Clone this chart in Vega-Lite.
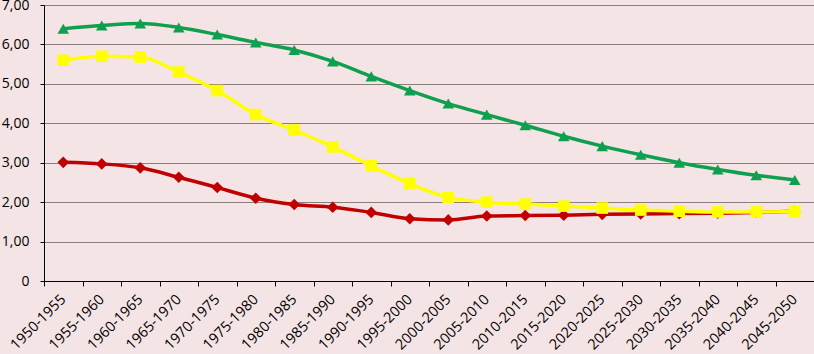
{
  "$schema": "https://vega.github.io/schema/vega-lite/v6.json",
  "width": 770,
  "height": 276,
  "autosize": {"type": "none"},
  "padding": {"left": 44, "top": 5, "right": 0, "bottom": 73},
  "background": "#f5e4e5",
  "config": {
    "view": {"stroke": null, "fill": "#f5e4e5"},
    "font": "Open Sans"
  },
  "datasets": {
    "rows": [
      {"period": "1950-1955", "series": "A", "value": 6.40},
      {"period": "1955-1960", "series": "A", "value": 6.48},
      {"period": "1960-1965", "series": "A", "value": 6.53},
      {"period": "1965-1970", "series": "A", "value": 6.43},
      {"period": "1970-1975", "series": "A", "value": 6.25},
      {"period": "1975-1980", "series": "A", "value": 6.05},
      {"period": "1980-1985", "series": "A", "value": 5.86},
      {"period": "1985-1990", "series": "A", "value": 5.57},
      {"period": "1990-1995", "series": "A", "value": 5.19},
      {"period": "1995-2000", "series": "A", "value": 4.83},
      {"period": "2000-2005", "series": "A", "value": 4.50},
      {"period": "2005-2010", "series": "A", "value": 4.22},
      {"period": "2010-2015", "series": "A", "value": 3.95},
      {"period": "2015-2020", "series": "A", "value": 3.67},
      {"period": "2020-2025", "series": "A", "value": 3.42},
      {"period": "2025-2030", "series": "A", "value": 3.20},
      {"period": "2030-2035", "series": "A", "value": 3.00},
      {"period": "2035-2040", "series": "A", "value": 2.83},
      {"period": "2040-2045", "series": "A", "value": 2.68},
      {"period": "2045-2050", "series": "A", "value": 2.56},
      {"period": "1950-1955", "series": "C", "value": 3.01},
      {"period": "1955-1960", "series": "C", "value": 2.97},
      {"period": "1960-1965", "series": "C", "value": 2.87},
      {"period": "1965-1970", "series": "C", "value": 2.63},
      {"period": "1970-1975", "series": "C", "value": 2.37},
      {"period": "1975-1980", "series": "C", "value": 2.10},
      {"period": "1980-1985", "series": "C", "value": 1.94},
      {"period": "1985-1990", "series": "C", "value": 1.87},
      {"period": "1990-1995", "series": "C", "value": 1.74},
      {"period": "1995-2000", "series": "C", "value": 1.58},
      {"period": "2000-2005", "series": "C", "value": 1.55},
      {"period": "2005-2010", "series": "C", "value": 1.65},
      {"period": "2010-2015", "series": "C", "value": 1.66},
      {"period": "2015-2020", "series": "C", "value": 1.67},
      {"period": "2020-2025", "series": "C", "value": 1.69},
      {"period": "2025-2030", "series": "C", "value": 1.70},
      {"period": "2030-2035", "series": "C", "value": 1.71},
      {"period": "2035-2040", "series": "C", "value": 1.72},
      {"period": "2040-2045", "series": "C", "value": 1.74},
      {"period": "2045-2050", "series": "C", "value": 1.77},
      {"period": "1950-1955", "series": "B", "value": 5.60},
      {"period": "1955-1960", "series": "B", "value": 5.70},
      {"period": "1960-1965", "series": "B", "value": 5.68},
      {"period": "1965-1970", "series": "B", "value": 5.30},
      {"period": "1970-1975", "series": "B", "value": 4.83},
      {"period": "1975-1980", "series": "B", "value": 4.22},
      {"period": "1980-1985", "series": "B", "value": 3.83},
      {"period": "1985-1990", "series": "B", "value": 3.40},
      {"period": "1990-1995", "series": "B", "value": 2.92},
      {"period": "1995-2000", "series": "B", "value": 2.47},
      {"period": "2000-2005", "series": "B", "value": 2.12},
      {"period": "2005-2010", "series": "B", "value": 2.00},
      {"period": "2010-2015", "series": "B", "value": 1.95},
      {"period": "2015-2020", "series": "B", "value": 1.90},
      {"period": "2020-2025", "series": "B", "value": 1.85},
      {"period": "2025-2030", "series": "B", "value": 1.80},
      {"period": "2030-2035", "series": "B", "value": 1.77},
      {"period": "2035-2040", "series": "B", "value": 1.75},
      {"period": "2040-2045", "series": "B", "value": 1.75},
      {"period": "2045-2050", "series": "B", "value": 1.76}
    ]
  },
  "data": {"name": "rows"},
  "encoding": {
    "x": {
      "field": "period", "type": "nominal", "sort": null,
      "scale": {"paddingInner": 0, "paddingOuter": 0},
      "axis": {
        "title": null, "labelAngle": -45, "labelAlign": "right", "labelBaseline": "middle",
        "labelFont": "Open Sans", "labelFontSize": 14.5, "labelColor": "#000000",
        "labelOverlap": false, "labelBound": false,
        "tickBand": "extent", "tickSize": 5, "tickColor": "#000000", "domainColor": "#000000",
        "labelPadding": 11, "grid": false
      }
    },
    "y": {
      "field": "value", "type": "quantitative",
      "scale": {"domain": [0, 7]},
      "axis": {
        "title": null, "values": [0,1,2,3,4,5,6,7],
        "labelFont": "Open Sans", "labelFontSize": 14, "labelColor": "#000000",
        "labelOverlap": false, "labelFlush": false,
        "labelExpr": "datum.value == 0 ? '0' : replace(format(datum.value, '.2f'), '.', ',')",
        "grid": true, "gridColor": "#8a7d7d", "gridWidth": 1,
        "domainColor": "#000000", "tickColor": "#000000", "tickSize": 4, "labelPadding": 11
      }
    },
    "color": {
      "field": "series", "type": "nominal", "legend": null,
      "scale": {"domain": ["A", "C", "B"], "range": ["#0fa04f", "#c00000", "#ffff00"]}
    },
    "order": {"field": "period"}
  },
  "layer": [
    {
      "mark": {"type": "line", "interpolate": "monotone", "strokeWidth": 3.5},
      "encoding": {"detail": {"field": "series"}}
    },
    {
      "mark": {"type": "point", "filled": true, "opacity": 1, "size": 135},
      "encoding": {
        "shape": {
          "field": "series", "type": "nominal", "legend": null,
          "scale": {"domain": ["A", "C", "B"], "range": ["triangle-up", "diamond", "square"]}
        }
      }
    }
  ]
}
